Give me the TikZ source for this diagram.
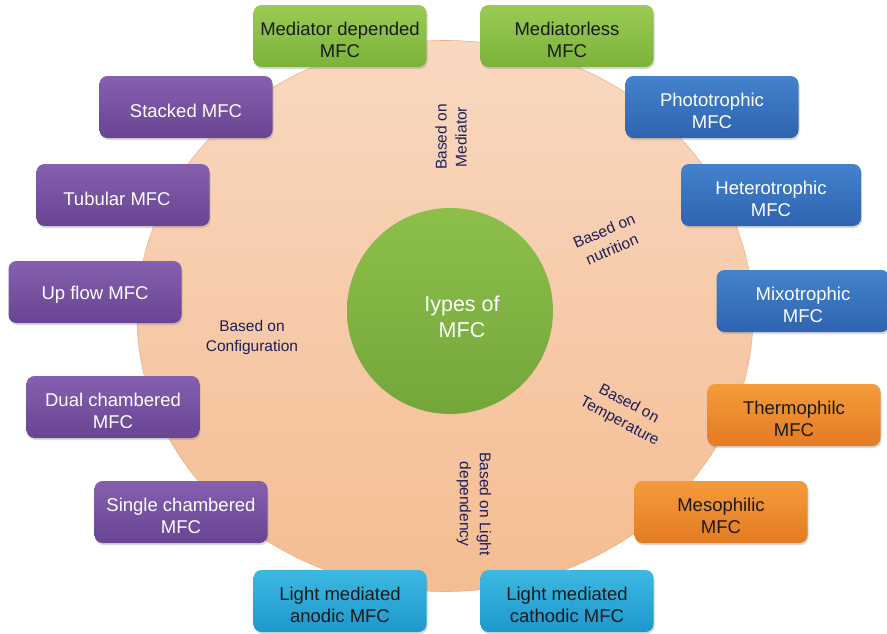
\documentclass[tikz,border=0pt]{standalone}
\usepackage{fontspec}
\setmainfont{Liberation Sans}
\usetikzlibrary{shapes.geometric,shadows}
\definecolor{peachtop}{HTML}{F9D8C0}
\definecolor{peachbot}{HTML}{F4BD92}
\definecolor{peachedge}{HTML}{EBB287}
\definecolor{hubtop}{HTML}{8CBF4A}
\definecolor{hubbot}{HTML}{74A73A}
\definecolor{grntop}{HTML}{9BCB55}
\definecolor{grnbot}{HTML}{7CB23A}
\definecolor{purtop}{HTML}{8460AE}
\definecolor{purbot}{HTML}{684492}
\definecolor{blutop}{HTML}{4482CC}
\definecolor{blubot}{HTML}{2E63B0}
\definecolor{oratop}{HTML}{F49B3C}
\definecolor{orabot}{HTML}{E47B22}
\definecolor{cyatop}{HTML}{3CB8E2}
\definecolor{cyabot}{HTML}{1E98CC}
\definecolor{navy}{HTML}{1E1E5A}
\definecolor{darktxt}{HTML}{1A1A1A}
\tikzset{
  mfcbox/.style={rounded corners=8pt, minimum width=173pt, minimum height=62pt,
    inner sep=0pt,
    drop shadow={shadow xshift=1pt, shadow yshift=-2pt, opacity=0.3}},
  grnbox/.style={mfcbox, top color=grntop, bottom color=grnbot},
  purbox/.style={mfcbox, top color=purtop, bottom color=purbot},
  blubox/.style={mfcbox, top color=blutop, bottom color=blubot},
  orabox/.style={mfcbox, top color=oratop, bottom color=orabot},
  cyabox/.style={mfcbox, top color=cyatop, bottom color=cyabot},
  boxtxt/.style={align=center, font=\fontsize{18.5}{22.5}\selectfont, inner sep=0pt},
  darkt/.style={boxtxt, text=darktxt},
  whitet/.style={boxtxt, text=white},
  basis/.style={align=center, text=navy, font=\fontsize{15.5}{20}\selectfont, inner sep=0pt}
}
\begin{document}
\begin{tikzpicture}[x=1pt,y=-1pt]
\useasboundingbox (0,0) rectangle (887,633);
% big ellipse
\node[ellipse, minimum width=616pt, minimum height=551pt, inner sep=0pt,
  top color=peachtop, bottom color=peachbot, draw=peachedge, line width=0.6pt] (ring) at (445,316) {};
% hub
\node[circle, minimum size=206pt, inner sep=0pt, top color=hubtop, bottom color=hubbot] (hub) at (450,311) {};
\node[align=center, text=white, font=\fontsize{21.5}{26}\selectfont, inner sep=0pt] (hubtxt) at (462,317) {Iypes of\\MFC};
% basis labels
\node[basis, rotate=90] (bmed) at (451,137) {Based on\\Mediator};
\node[basis, rotate=23] (bnut) at (608,240) {Based on\\nutrition};
\node[basis] (bcon) at (252,337) {Based on\\Configuration};
\node[basis, rotate=-28] (btem) at (624,413) {Based on\\Temperature};
\node[basis, rotate=-90] (blig) at (474,504) {Based on Light\\dependency};
% boxes
\node[grnbox] (meddep) at (340,36) {};
\node[grnbox] (medless) at (567,36) {};
\node[purbox] (stacked) at (186,107) {};
\node[purbox] (tubular) at (123,195) {};
\node[purbox] (upflow) at (95,292) {};
\node[purbox] (dual) at (113,407) {};
\node[purbox] (single) at (181,512) {};
\node[cyabox] (anodic) at (340,601) {};
\node[cyabox] (cathodic) at (567,601) {};
\node[orabox] (meso) at (721,512) {};
\node[orabox] (thermo) at (794,415) {};
\node[blubox] (mixo) at (803,301) {};
\node[blubox, minimum width=180pt] (hetero) at (771,195) {};
\node[blubox] (photo) at (712,107) {};
% box texts
\node[darkt] (tmeddep) at ([yshift=-4pt]meddep.center) {Mediator depended\\MFC};
\node[darkt] (tmedless) at ([yshift=-4pt]medless.center) {Mediatorless\\MFC};
\node[whitet] (tstacked) at ([yshift=-4pt]stacked.center) {Stacked MFC};
\node[whitet] (ttubular) at ([xshift=-6pt,yshift=-4pt]tubular.center) {Tubular MFC};
\node[whitet] (tupflow) at ([yshift=-3pt]upflow.center) {Up flow MFC};
\node[whitet] (tdual) at ([yshift=-4pt]dual.center) {Dual chambered\\MFC};
\node[whitet] (tsingle) at ([yshift=-4pt]single.center) {Single chambered\\MFC};
\node[darkt] (tanodic) at ([yshift=-4pt]anodic.center) {Light mediated\\anodic MFC};
\node[darkt] (tcathodic) at ([yshift=-4pt]cathodic.center) {Light mediated\\cathodic MFC};
\node[darkt] (tmeso) at ([yshift=-4pt]meso.center) {Mesophilic\\MFC};
\node[darkt] (tthermo) at ([yshift=-4pt]thermo.center) {Thermophilc\\MFC};
\node[whitet] (tmixo) at ([yshift=-4pt]mixo.center) {Mixotrophic\\MFC};
\node[whitet] (thetero) at ([yshift=-4pt]hetero.center) {Heterotrophic\\MFC};
\node[whitet] (tphoto) at ([yshift=-4pt]photo.center) {Phototrophic\\MFC};
\end{tikzpicture}
\end{document}
